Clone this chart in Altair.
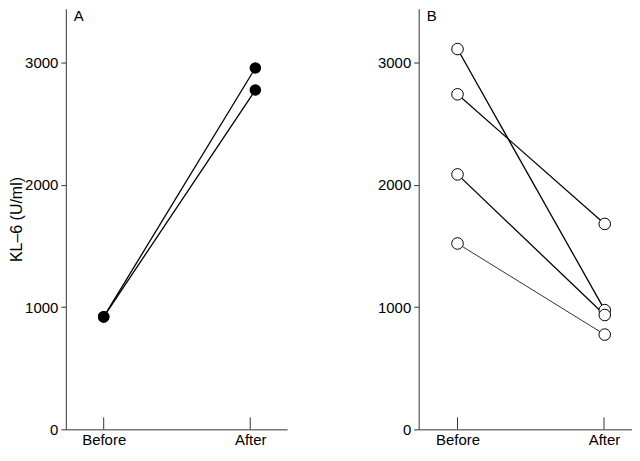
import altair as alt
import pandas as pd

# ---- data ----
phase_labels = ["Before", "After"]
tick_positions = [0, 1]
y_ticks = [0, 1000, 2000, 3000]

# Panel A (filled circles)
a_subjects = [1, 2]
a_before = [920, 920]
a_after = [2955, 2775]
a_after_pos = 1.035

# Panel B (open circles)
b_subjects = [1, 2, 3, 4]
b_before = [3110, 2740, 2085, 1520]
b_after = [975, 1680, 935, 775]
b_after_pos = 1.005

panel_labels = ["A", "B"]
y_title = "KL–6 (U/ml)"


def long_df(subjects, before, after, after_pos):
    rows = []
    for s, b, a in zip(subjects, before, after):
        rows.append({"subject": s, "pos": 0.0, "value": b})
        rows.append({"subject": s, "pos": after_pos, "value": a})
    return pd.DataFrame(rows)


df_a = long_df(a_subjects, a_before, a_after, a_after_pos)
df_b = long_df(b_subjects, b_before, b_after, b_after_pos)
tick_df = pd.DataFrame({"pos": tick_positions})

H = 422
FONT = "Liberation Sans"
AX = "#333333"


def panel(df, label, filled, show_title, width, xdomain, thin_subject=None):
    x = alt.X(
        "pos:Q",
        scale=alt.Scale(domain=xdomain, nice=False, zero=False),
        axis=alt.Axis(
            values=tick_positions,
            labelExpr="datum.value == 0 ? 'Before' : 'After'",
            ticks=False, grid=False, title=None, labelPadding=3,
            labelFontSize=15, labelColor="black", labelFont=FONT,
            domainColor=AX, domainWidth=1,
        ),
    )
    y = alt.Y(
        "value:Q",
        scale=alt.Scale(domain=[0, 3440], nice=False),
        axis=alt.Axis(
            values=y_ticks, format="d", grid=False, tickSize=5, labelPadding=3,
            labelFontSize=15, labelColor="black", labelFont=FONT,
            tickColor=AX, domainColor=AX, domainWidth=1,
            title=y_title if show_title else None,
            titleFontSize=16, titleFontWeight="normal", titleFont=FONT,
            titleColor="black", titlePadding=0,
        ),
    )
    if thin_subject is not None:
        sw = alt.condition(f"datum.subject == {thin_subject}", alt.value(0.8), alt.value(1.3))
    else:
        sw = alt.value(1.3)
    lines = alt.Chart(df).mark_line(color="black").encode(
        x=x, y=y, detail="subject:N", strokeWidth=sw
    )
    if filled:
        pts = alt.Chart(df).mark_circle(size=135, color="black", opacity=1).encode(x=x, y=y)
    else:
        pts = alt.Chart(df).mark_circle(
            size=135, fill="white", stroke="black", strokeWidth=1, opacity=1
        ).encode(x=x, y=y)
    ticks = alt.Chart(tick_df).mark_rule(color=AX, strokeWidth=1).encode(
        x=alt.X("pos:Q"), y=alt.value(H), y2=alt.value(H - 12)
    )
    txt = alt.Chart(pd.DataFrame({"label": [label]})).mark_text(
        align="left", baseline="top", fontSize=15, font=FONT, color="black"
    ).encode(text="label:N", x=alt.value(8), y=alt.value(0))
    return alt.layer(ticks, lines, pts, txt).properties(width=width, height=H)


chart = alt.hconcat(
    panel(df_a, panel_labels[0], True, True, 222, [-0.2585, 1.2517]),
    panel(df_b, panel_labels[1], False, False, 214, [-0.265, 1.191], thin_subject=4),
    spacing=90,
).properties(padding={"left": 0, "top": 0, "right": 0, "bottom": 0}).configure_view(stroke=None)

chart.save("out.html", embed_options={"renderer": "svg", "actions": False})
